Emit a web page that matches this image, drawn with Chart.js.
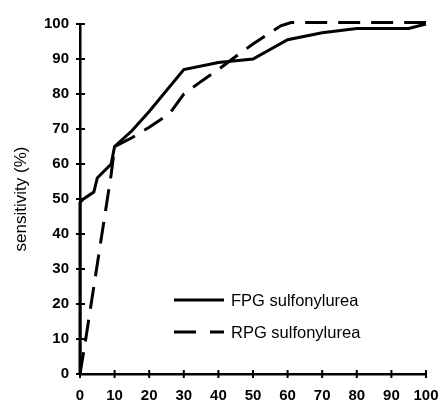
<!DOCTYPE html>
<html>
<head>
<meta charset="utf-8">
<script src="https://cdn.jsdelivr.net/npm/chart.js@4.4.1/dist/chart.umd.min.js"></script>
<style>
  html, body { margin: 0; padding: 0; background: #fff; }
  #wrap { width: 441px; height: 405px; position: relative; }
</style>
</head>
<body>
<div id="wrap"><canvas id="c"></canvas></div>
<script>
// ---- data ----
const xTicks = [0, 10, 20, 30, 40, 50, 60, 70, 80, 90, 100];
const yTicks = [0, 10, 20, 30, 40, 50, 60, 70, 80, 90, 100];
const fpgLabel = 'FPG sulfonylurea';
const fpgX = [0, 0, 1, 4, 5, 9, 10, 15, 20, 25, 30, 40, 50, 60, 70, 80, 95, 100];
const fpgY = [0, 49, 50, 52, 56, 60, 65, 69.5, 75, 81, 87, 89, 90, 95.5, 97.5, 98.7, 98.7, 100];
const rpgLabel = 'RPG sulfonylurea';
const rpgX = [0, 1.5, 9, 10, 15, 20, 26, 30, 35, 40, 45, 50, 58, 61, 100];
const rpgY = [0, 9, 57, 65, 67.5, 70.5, 74.5, 80, 83.6, 87, 90.7, 94.3, 99.5, 100.4, 100.4];
const yTitle = 'sensitivity (%)';

const toPts = (xs, ys) => xs.map((x, i) => ({ x: x, y: ys[i] }));

const FONT = "'Liberation Sans', Arial, Helvetica, sans-serif";

// tick marks crossing the axes
const crossTicks = {
  id: 'crossTicks',
  afterDraw(chart) {
    const ctx = chart.ctx;
    const xs = chart.scales.x, ys = chart.scales.y;
    const area = chart.chartArea;
    ctx.save();
    ctx.strokeStyle = '#000';
    ctx.lineWidth = 2;
    xs.ticks.forEach(t => {
      const p = xs.getPixelForValue(t.value);
      ctx.beginPath();
      ctx.moveTo(p, area.bottom - 4);
      ctx.lineTo(p, area.bottom + 4);
      ctx.stroke();
    });
    ys.ticks.forEach(t => {
      const p = ys.getPixelForValue(t.value);
      ctx.beginPath();
      ctx.moveTo(area.left - 4, p);
      ctx.lineTo(area.left + 5, p);
      ctx.stroke();
    });
    ctx.restore();
  }
};

// legend drawn inside the plot area, lower right
const innerLegend = {
  id: 'innerLegend',
  afterDraw(chart) {
    const ctx = chart.ctx;
    ctx.save();
    const x0 = 174, x1 = 224, tx = 231;
    const rows = [300, 332];
    chart.data.datasets.forEach((ds, i) => {
      const y = rows[i];
      ctx.strokeStyle = '#000';
      ctx.lineWidth = 3;
      ctx.setLineDash(ds.legendDash || []);
      ctx.beginPath();
      ctx.moveTo(x0, y);
      ctx.lineTo(x1, y);
      ctx.stroke();
      ctx.setLineDash([]);
      ctx.fillStyle = '#000';
      ctx.font = '16.5px ' + FONT;
      ctx.textBaseline = 'middle';
      ctx.textAlign = 'left';
      ctx.fillText(ds.label, tx, y + 1);
    });
    ctx.restore();
  }
};

new Chart(document.getElementById('c'), {
  type: 'line',
  data: {
    datasets: [
      {
        label: fpgLabel,
        data: toPts(fpgX, fpgY),
        borderColor: '#000',
        borderWidth: 3,
        pointRadius: 0,
        tension: 0,
        fill: false,
        clip: 6,
        legendDash: []
      },
      {
        label: rpgLabel,
        data: toPts(rpgX, rpgY),
        borderColor: '#000',
        borderWidth: 3,
        borderDash: [22, 11],
        pointRadius: 0,
        tension: 0,
        fill: false,
        clip: 6,
        legendDash: [22, 14]
      }
    ]
  },
  options: {
    responsive: true,
    maintainAspectRatio: false,
    animation: false,
    layout: { padding: { left: 0, right: 15, top: 24, bottom: 0 } },
    plugins: {
      legend: { display: false },
      tooltip: { enabled: false }
    },
    scales: {
      x: {
        type: 'linear',
        min: 0, max: 100,
        afterBuildTicks: s => { s.ticks = xTicks.map(v => ({ value: v })); },
        afterFit: s => { s.height = 31; s.paddingLeft = 0; s.paddingRight = 0; },
        grid: { display: false, drawTicks: false },
        border: { display: true, color: '#000', width: 2.5 },
        ticks: {
          color: '#000',
          padding: 13,
          maxRotation: 0,
          autoSkip: false,
          font: { family: FONT, size: 15, weight: 'bold' }
        }
      },
      y: {
        type: 'linear',
        min: 0, max: 100,
        afterBuildTicks: s => { s.ticks = yTicks.map(v => ({ value: v })); },
        afterFit: s => { s.width = 80; s.paddingTop = 0; s.paddingBottom = 0; },
        grid: { display: false, drawTicks: false },
        border: { display: true, color: '#000', width: 2.5 },
        ticks: {
          color: '#000',
          padding: 11,
          autoSkip: false,
          font: { family: FONT, size: 15, weight: 'bold' }
        },
        title: {
          display: true,
          text: yTitle,
          color: '#000',
          padding: { top: 11, bottom: 0 },
          font: { family: FONT, size: 17, weight: 'normal' }
        }
      }
    }
  },
  plugins: [crossTicks, innerLegend]
});
</script>
</body>
</html>
